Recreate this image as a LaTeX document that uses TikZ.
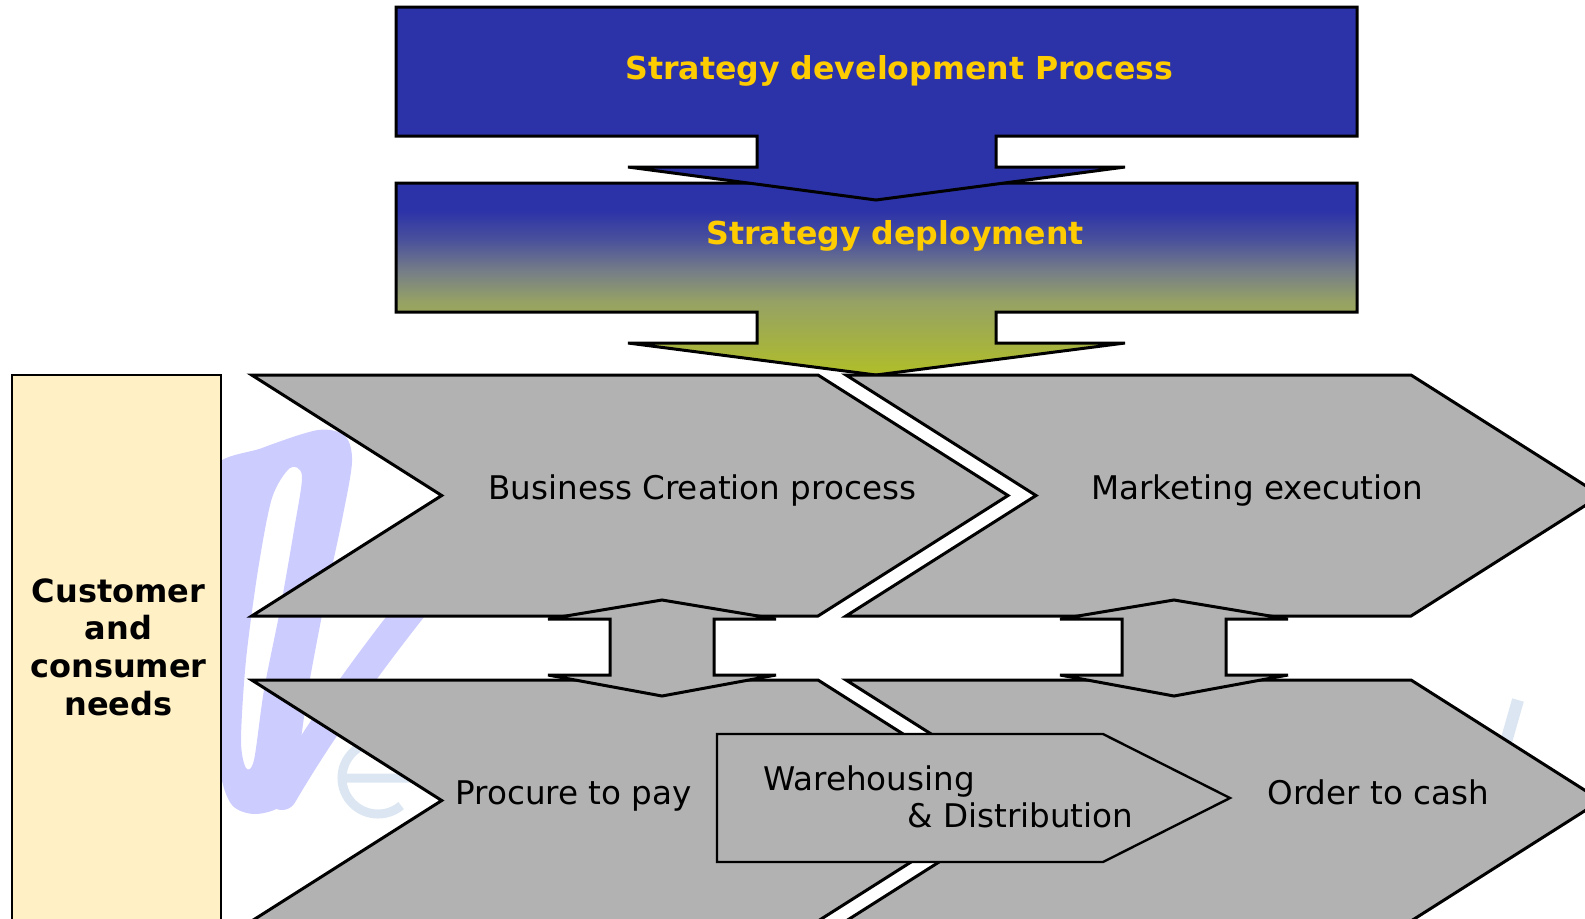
\documentclass[tikz,border=0pt]{standalone}
\usepackage{fontspec}
\setmainfont{DejaVu Sans}
\definecolor{stratblue}{RGB}{44,50,168}
\definecolor{stratgold}{RGB}{255,204,0}
\definecolor{procgray}{RGB}{178,178,178}
\definecolor{needsyellow}{RGB}{255,240,198}
\definecolor{wmlilac}{RGB}{204,204,255}
\definecolor{wmblue}{RGB}{220,230,242}
\definecolor{tipgreen}{RGB}{176,190,40}
\definecolor{deepolive}{RGB}{150,162,100}
\definecolor{slateblue}{RGB}{118,126,135}
\definecolor{dimblue}{RGB}{75,82,155}
\pgfdeclareverticalshading{deployshade}{100bp}{color(0bp)=(tipgreen); color(25bp)=(tipgreen); color(44bp)=(deepolive); color(52bp)=(slateblue); color(60bp)=(dimblue); color(68bp)=(stratblue); color(100bp)=(stratblue)}
\tikzstyle{panel}=[draw=black,line width=1.5pt]
\tikzstyle{process}=[panel,fill=procgray]
\tikzstyle{stratext}=[anchor=base west,inner sep=0pt,text=stratgold,font=\bfseries\fontsize{15.8}{19}\selectfont]
\tikzstyle{proctext}=[anchor=base west,inner sep=0pt,font=\fontsize{16.3}{19}\selectfont]
\tikzstyle{needstext}=[align=center,inner sep=0pt,font=\bfseries\fontsize{16}{18.85}\selectfont]

\begin{document}
\begin{tikzpicture}[x=0.5pt,y=-0.5pt]
  \useasboundingbox (0,0) rectangle (1585,918);
  \clip (0,0) rectangle (1585,918);

  % faint logo behind the chart
  \fill[wmlilac,even odd rule]
    plot[smooth cycle] coordinates {(212,470) (262,448) (318,430) (345,436) (352,462) (342,520) (325,600)
      (308,690) (296,770) (282,805) (255,814) (232,805) (220,770) (214,680) (212,560)}
    plot[smooth cycle] coordinates {(290,468) (302,476) (294,530) (280,610) (264,690) (254,760) (246,768)
      (241,740) (246,660) (258,570) (272,498)};
  \draw[wmlilac,line width=15pt,line cap=round] (282,795) .. controls (320,730) and (370,660) .. (428,588);
  \draw[wmblue,line width=4.5pt] (342,778) -- (414,778) arc[start angle=0,end angle=310,radius=18pt];
  \draw[wmblue,line width=6pt] (1518,700) -- (1498,770);

  \draw[fill=needsyellow,line width=1pt] (12,375) rectangle (221,930);
  \node[needstext] (needs) at (118.5,647) {Customer\\and\\consumer\\needs};

  % strategy boxes with their arrows
  \shadedraw[panel,shading=deployshade] (396,183) -- (1357,183) -- (1357,312) -- (996,312) -- (996,343)
    -- (1125,343) -- (876,375) -- (628,343) -- (757,343) -- (757,312) -- (396,312) -- cycle;
  \draw[panel,fill=stratblue] (396,7) -- (1357,7) -- (1357,136) -- (996,136) -- (996,167)
    -- (1125,167) -- (876,200) -- (628,167) -- (757,167) -- (757,136) -- (396,136) -- cycle;
  \node[stratext] (develop) at (625,79) {Strategy development Process};
  \node[stratext] (deploy) at (706,244) {Strategy deployment};

  % two rows of chevrons
  \foreach \dy in {0,305} {
    \draw[process] (251.7,375+\dy) -- (818,375+\dy) -- (1008,495.5+\dy) -- (818,616+\dy)
      -- (251.7,616+\dy) -- (441.7,495.5+\dy) -- cycle;
    \draw[process] (846,375+\dy) -- (1411,375+\dy) -- (1601,495.5+\dy) -- (1411,616+\dy)
      -- (846,616+\dy) -- (1036,495.5+\dy) -- cycle;
  }

  % up/down arrows between the rows
  \foreach \cx in {662,1174}
    \draw[process] (\cx,600) -- (\cx+114,619) -- (\cx+52,619) -- (\cx+52,675) -- (\cx+114,675)
      -- (\cx,696) -- (\cx-114,675) -- (\cx-52,675) -- (\cx-52,619) -- (\cx-114,619) -- cycle;

  \draw[process,line width=1.2pt] (717,734) -- (1103,734) -- (1230,798) -- (1103,862) -- (717,862) -- cycle;

  \node[proctext] (create)  at (488,499)  {Business Creation process};
  \node[proctext] (market)  at (1091,499) {Marketing execution};
  \node[proctext] (procure) at (455,804)  {Procure to pay};
  \node[proctext] (order)   at (1267,804) {Order to cash};
  \node[proctext] (wareh)   at (763,790)  {Warehousing};
  \node[proctext] (distrib) at (907,827)  {\& Distribution};
\end{tikzpicture}
\end{document}
